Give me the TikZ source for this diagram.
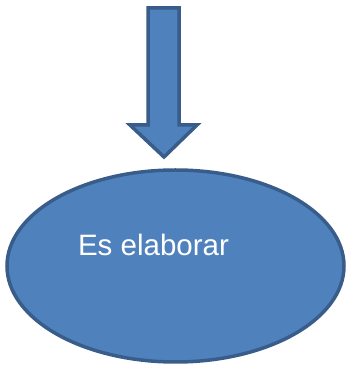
\documentclass[tikz,border=0pt]{standalone}
\usepackage{fontspec}
\setmainfont{Liberation Sans}
\usetikzlibrary{shapes.geometric}
\definecolor{blaufuell}{HTML}{4F81BD}
\definecolor{blaurand}{HTML}{385D8A}
\begin{document}
\begin{tikzpicture}[x=1pt,y=1pt]
            \useasboundingbox (0,0) rectangle (347,369);
            \draw[blaurand, line width=3.5pt, fill=blaufuell, line join=miter] (148,361) -- (179,361) -- (179,244) -- (197,244) -- (164,212) -- (130,244) -- (148,244) -- cycle;
            \node[ellipse, draw=blaurand, line width=3.5pt, fill=blaufuell, minimum width=337pt, minimum height=192pt, inner sep=0pt] (elab) at (175.5,103) {};

            % Beschriftung

            \node[text=white, font=\fontsize{29.5}{33}\selectfont, inner sep=0pt] (txt) at (153.5,124) {Es elaborar};
        \end{tikzpicture}
\end{document}
